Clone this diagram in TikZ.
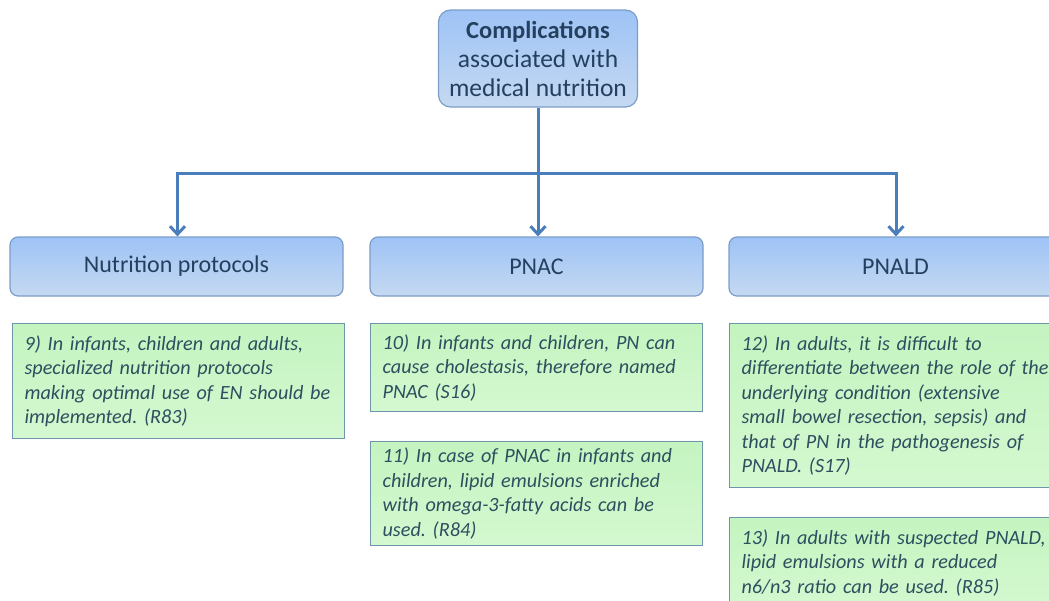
\documentclass[tikz,border=0pt]{standalone}
\usepackage{fontspec}
\setmainfont{Carlito}
\usetikzlibrary{arrows.meta}
\frenchspacing
\definecolor{lineblue}{HTML}{4A7EBB}
\definecolor{hdrtop}{HTML}{9EC3F6}
\definecolor{hdrbot}{HTML}{C5D9F1}
\definecolor{hdrborder}{HTML}{7C9DC8}
\definecolor{grntop}{HTML}{C4F4C0}
\definecolor{grnbot}{HTML}{D4F8D0}
\definecolor{grnborder}{HTML}{6E96AA}
\definecolor{hdrtext}{HTML}{24405E}
\definecolor{boxtext}{HTML}{2D4F5F}
\tikzset{
  x=1pt, y=-1pt,
  titlebox/.style={draw=hdrborder, line width=1.2pt, rounded corners=12pt,
    top color=hdrtop, bottom color=hdrbot, minimum width=199pt, minimum height=97pt,
    align=center, text=hdrtext, inner sep=0pt,
    font=\fontsize{25.5}{29}\selectfont},
  hdrbox/.style={draw=hdrborder, line width=1.2pt, rounded corners=8pt,
    top color=hdrtop, bottom color=hdrbot, minimum width=333pt, minimum height=59pt,
    text=hdrtext, inner sep=0pt, font=\fontsize{24}{28}\selectfont},
  grnbox/.style={draw=grnborder, line width=1.2pt, top color=grntop, bottom color=grnbot,
    anchor=north west, text width=308pt, inner xsep=12pt, inner ysep=0pt,
    align=left, text=boxtext, font=\fontsize{20.2}{24.5}\selectfont\itshape},
  conn/.style={draw=lineblue, line width=3pt},
  arr/.style={conn, -{Straight Barb[length=8pt,width=15pt,line width=3pt]}}
}
\begin{document}
\begin{tikzpicture}
\useasboundingbox (0,0) rectangle (1049,600);
\clip (0,0) rectangle (1049,600);
\node[titlebox] (top) at (538,58.5) {{\fontsize{24.5}{29}\selectfont\textbf{Complications}}\\associated with\\medical nutrition};
\node[hdrbox] (h1) at (176.5,266.5) {Nutrition protocols};
\node[hdrbox] (h2) at (536.5,266.5) {PNAC};
\node[hdrbox] (h3) at (895.5,266.5) {PNALD};
\coordinate (j) at (538,173);
\draw[conn] (top.south) -- (j);
\draw[arr] (j) -| ([xshift=1pt]h1.north);
\draw[arr] (j) -- ([xshift=1.5pt]h2.north);
\draw[arr] (j) -| ([xshift=0.5pt]h3.north);
\node[grnbox, minimum height=115pt] (b9) at (12,323)
  {9) In infants, children and adults,\\specialized nutrition protocols\\making optimal use of EN should be\\implemented. (R83)};
\node[grnbox, minimum height=88pt] (b10) at (370,323)
  {10) In infants and children, PN can\\cause cholestasis, therefore named\\PNAC (S16)};
\node[grnbox, minimum height=104pt] (b11) at (370,441)
  {11) In case of PNAC in infants and\\children, lipid emulsions enriched\\with omega-3-fatty acids can be\\used. (R84)};
\node[grnbox, minimum height=164pt] (b12) at (729,323)
  {12) In adults, it is difficult to\\differentiate between the role of the\\underlying condition (extensive\\small bowel resection, sepsis) and\\that of PN in the pathogenesis of\\PNALD. (S17)};
\node[grnbox, minimum height=90pt] (b13) at (729,517)
  {13) In adults with suspected PNALD,\\lipid emulsions with a reduced\\n6/n3 ratio can be used. (R85)};
\end{tikzpicture}
\end{document}
